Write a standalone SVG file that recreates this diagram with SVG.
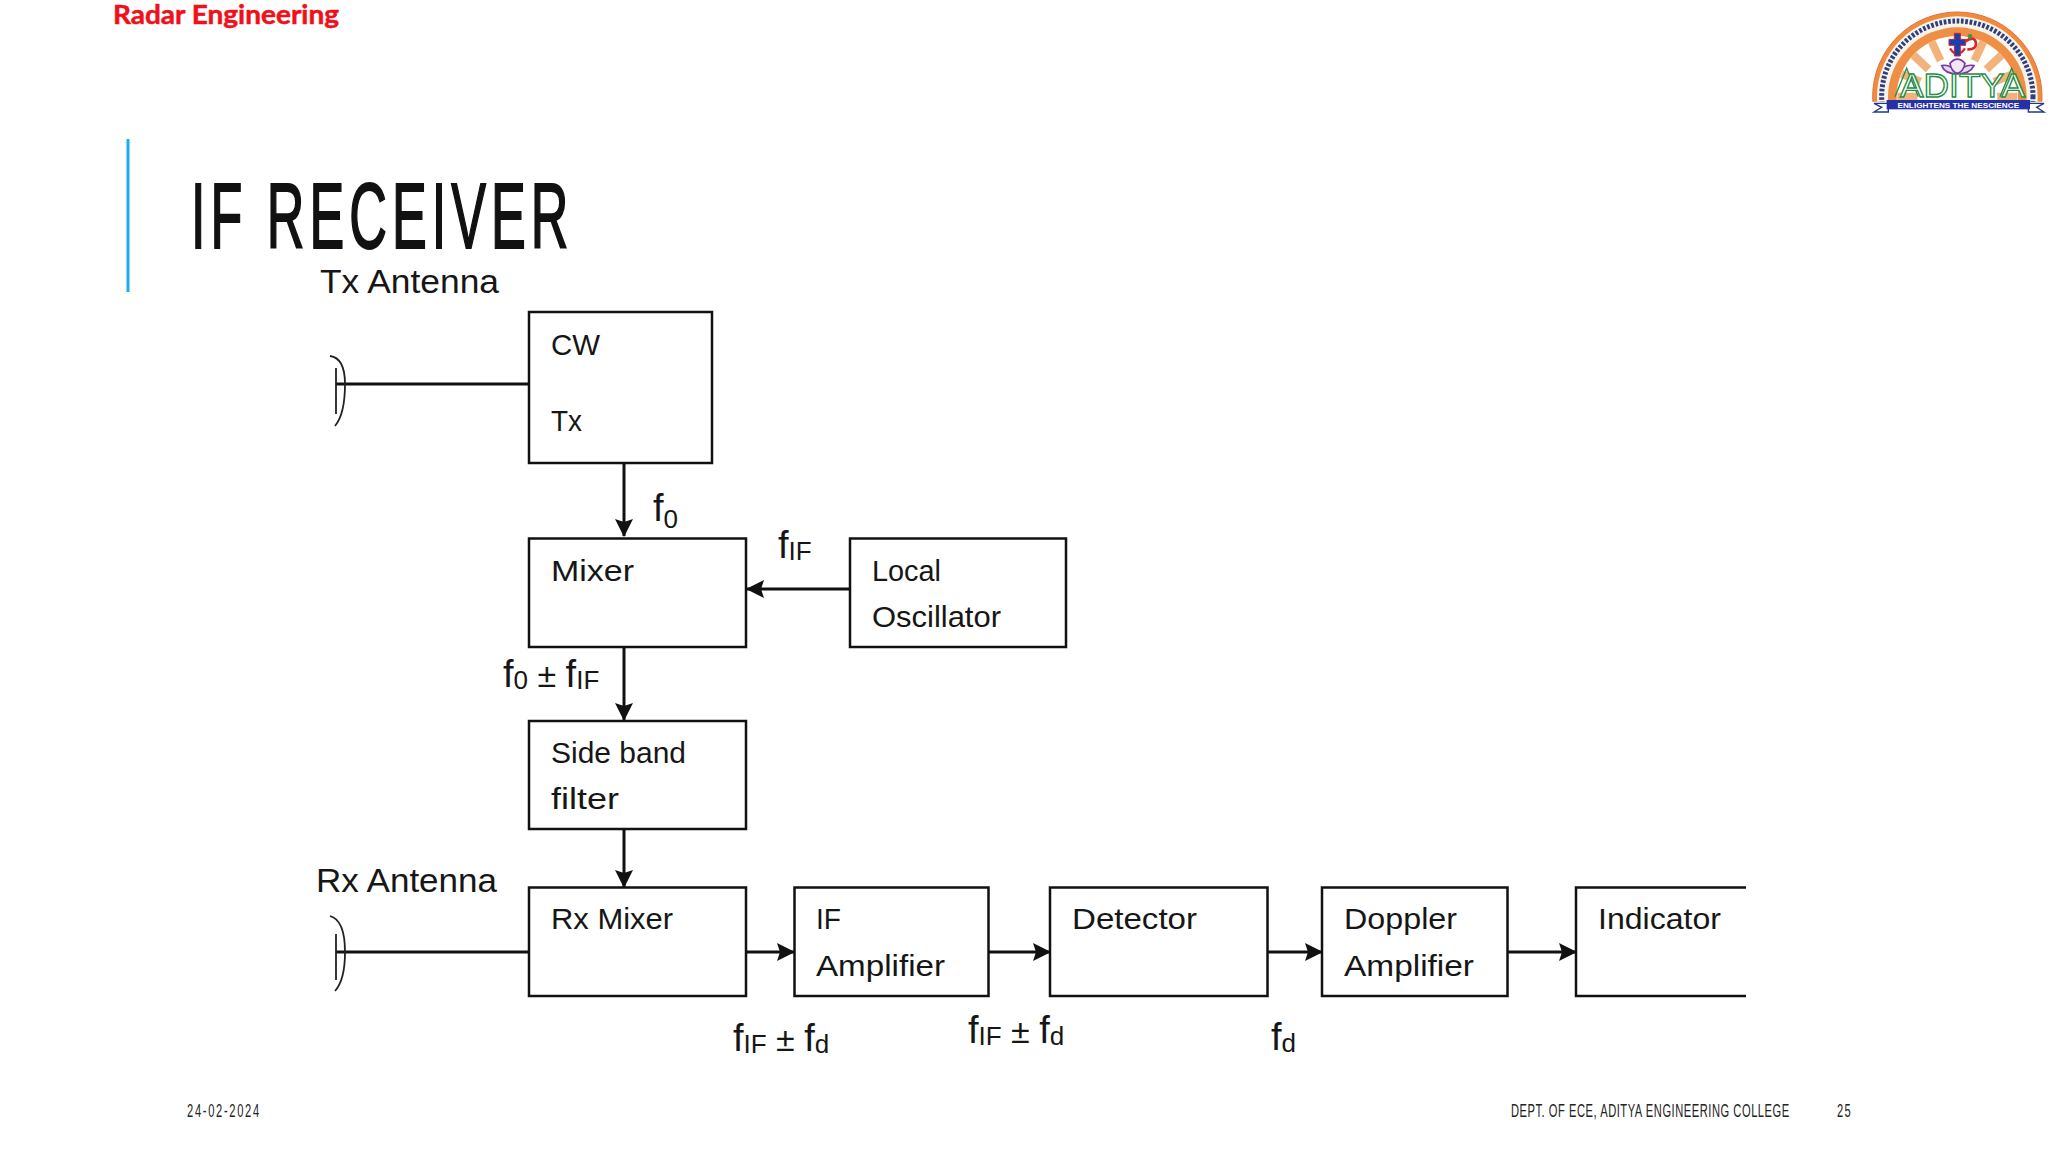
<svg xmlns="http://www.w3.org/2000/svg" width="2048" height="1152" viewBox="0 0 2048 1152">
<defs>
<style>
.box{fill:#fff;stroke:#111;stroke-width:2.5}
.ln{fill:none;stroke:#111;stroke-width:3}
.ant{fill:none;stroke:#222;stroke-width:1.8}
.t{font-family:"Liberation Sans",Arial,sans-serif;font-size:30px;fill:#161616}
.big{font-size:34px}
.sig{font-family:"Liberation Sans",Arial,sans-serif;font-size:38px;fill:#161616}
.sub{font-size:26px}
.pm{font-size:34px}
.foot{font-family:"Liberation Sans",Arial,sans-serif;font-size:18px;fill:#222;letter-spacing:.85px}
</style>
<marker id="ah" markerUnits="userSpaceOnUse" markerWidth="20" markerHeight="22" refX="17" refY="11" orient="auto">
<path d="M0 2 L18 11 L0 20 L3 11 Z" fill="#111"/>
</marker>
<clipPath id="semi"><rect x="40" y="0" width="580" height="305"/></clipPath>
</defs>
<rect width="2048" height="1152" fill="#fff"/>

<g id="header">
<text x="113" y="24" font-family="Lato,'Liberation Sans',sans-serif" font-weight="700" font-size="27" fill="#f0101a" stroke="#f0101a" stroke-width=".5" textLength="226" lengthAdjust="spacingAndGlyphs">Radar Engineering</text>
<rect x="126.500" y="139" width="3" height="153" fill="#1cade4"/>
<text transform="translate(191 248) scale(.56 1)" x="0" y="0" font-family="'Liberation Sans',Arial,sans-serif" font-size="93" fill="#111" stroke="#111" stroke-width="2" letter-spacing="9">IF RECEIVER</text>
</g>

<g id="logo" transform="translate(1850 0) scale(.33333)">
<g clip-path="url(#semi)">
<circle cx="322" cy="290" r="254" fill="#f08a3c" stroke="#e2703a" stroke-width="3"/>
<circle cx="322" cy="290" r="241" fill="#fbf3e8"/>
<circle cx="322" cy="290" r="227" fill="none" stroke="#2a3f86" stroke-width="15" stroke-dasharray="8 5"/>
<circle cx="322" cy="290" r="208" fill="#ef8f45"/>
<circle cx="322" cy="290" r="182" fill="#fff"/>
<g stroke="#f3b27c" stroke-width="24">
<path d="M322 290 L142 290"/><path d="M322 290 L155 222"/><path d="M322 290 L190 165"/><path d="M322 290 L245 125"/><path d="M322 290 L400 125"/><path d="M322 290 L455 165"/><path d="M322 290 L490 222"/><path d="M322 290 L502 290"/>
</g>
<circle cx="322" cy="290" r="120" fill="#fff"/>
</g>
<g fill="none" stroke="#7a3aa0" stroke-width="5">
<path d="M275 197 Q300 190 322 220 Q345 190 372 197 Q360 222 322 222 Q285 222 275 197 Z" fill="#e9d8f0"/>
<path d="M300 190 Q322 165 345 190 Q340 215 322 220 Q304 215 300 190 Z" fill="#f3e6f6"/>
</g>
<path d="M300 145 Q322 178 345 145" fill="none" stroke="#d8262c" stroke-width="7"/>
<path d="M313 100 H331 V118 H347 V136 H331 V168 H313 V136 H297 V118 H313 Z" fill="#1d3fae" stroke="#c8242c" stroke-width="3"/>
<path d="M345 125 Q375 105 378 130 Q378 150 352 148" fill="none" stroke="#d8262c" stroke-width="8"/>
<circle cx="360" cy="109" r="7" fill="#3b9a4a"/>
<path d="M135 290 L170 205 L205 290 M520 290 L485 205 L450 290" fill="none" stroke="#1f8f45" stroke-width="4"/>
<text x="150" y="290" font-family="'Liberation Sans',Arial,sans-serif" font-size="100" fill="#fff" stroke="#1f8f45" stroke-width="4" textLength="375" lengthAdjust="spacingAndGlyphs">ADITYA</text>
<path d="M115 310 H72 L95 322 L72 336 H115 Z" fill="#fff" stroke="#1f3a86" stroke-width="4"/>
<path d="M535 310 H582 L560 322 L582 336 H535 Z" fill="#fff" stroke="#1f3a86" stroke-width="4"/>
<rect x="110" y="300" width="430" height="28" fill="#2431a8"/>
<text x="325" y="323" text-anchor="middle" font-family="'Liberation Sans',Arial,sans-serif" font-weight="700" font-size="23" fill="#fff" textLength="365" lengthAdjust="spacingAndGlyphs">ENLIGHTENS THE NESCIENCE</text>
</g>

<g id="connectors">
<path class="ln" d="M336 384 H529"/>
<path class="ln" d="M624 463 V536" marker-end="url(#ah)"/>
<path class="ln" d="M849 589 H747" marker-end="url(#ah)"/>
<path class="ln" d="M624 647 V720" marker-end="url(#ah)"/>
<path class="ln" d="M624 829 V887" marker-end="url(#ah)"/>
<path class="ln" d="M336 952 H529"/>
<path class="ln" d="M746 952 H794" marker-end="url(#ah)"/>
<path class="ln" d="M988 952 H1050" marker-end="url(#ah)"/>
<path class="ln" d="M1267 952 H1322" marker-end="url(#ah)"/>
<path class="ln" d="M1507 952 H1576" marker-end="url(#ah)"/>
</g>

<g id="tx-antenna">
<path class="ant" d="M330 356 Q345 358 345 384 Q345 414 335 426"/>
<path class="ant" d="M336 368 V414"/>
<text class="t big" x="320" y="293" textLength="179" lengthAdjust="spacingAndGlyphs">Tx Antenna</text>
</g>
<g id="rx-antenna">
<path class="ant" d="M330 916 Q345 920 345 952 Q345 980 335 991"/>
<path class="ant" d="M336 934 V980"/>
<text class="t big" x="316" y="892" textLength="181" lengthAdjust="spacingAndGlyphs">Rx Antenna</text>
</g>
<g id="cw-tx">
<rect class="box" x="529" y="312" width="183" height="151"/>
<text class="t" x="551" y="355" textLength="49" lengthAdjust="spacingAndGlyphs">CW</text>
<text class="t" x="551" y="431" textLength="31" lengthAdjust="spacingAndGlyphs">Tx</text>
</g>
<g id="mixer">
<rect class="box" x="529" y="538.500" width="217" height="108.500"/>
<text class="t" x="551" y="581" textLength="83" lengthAdjust="spacingAndGlyphs">Mixer</text>
</g>
<g id="local-oscillator">
<rect class="box" x="850" y="538.500" width="216" height="108.500"/>
<text class="t" x="872" y="581" textLength="69" lengthAdjust="spacingAndGlyphs">Local</text>
<text class="t" x="872" y="627" textLength="129" lengthAdjust="spacingAndGlyphs">Oscillator</text>
</g>
<g id="sideband-filter">
<rect class="box" x="529" y="721" width="217" height="108"/>
<text class="t" x="551" y="763" textLength="135" lengthAdjust="spacingAndGlyphs">Side band</text>
<text class="t" x="551" y="809" textLength="68" lengthAdjust="spacingAndGlyphs">filter</text>
</g>
<g id="rx-mixer">
<rect class="box" x="529" y="887.500" width="217" height="108.500"/>
<text class="t" x="551" y="929" textLength="122" lengthAdjust="spacingAndGlyphs">Rx Mixer</text>
</g>
<g id="if-amplifier">
<rect class="box" x="794.500" y="887.500" width="194" height="108.500"/>
<text class="t" x="816" y="929" textLength="25" lengthAdjust="spacingAndGlyphs">IF</text>
<text class="t" x="816" y="976" textLength="129" lengthAdjust="spacingAndGlyphs">Amplifier</text>
</g>
<g id="detector">
<rect class="box" x="1050" y="887.500" width="217.500" height="108.500"/>
<text class="t" x="1072" y="929" textLength="125" lengthAdjust="spacingAndGlyphs">Detector</text>
</g>
<g id="doppler-amplifier">
<rect class="box" x="1322" y="887.500" width="185.500" height="108.500"/>
<text class="t" x="1344" y="929" textLength="113" lengthAdjust="spacingAndGlyphs">Doppler</text>
<text class="t" x="1344" y="976" textLength="130" lengthAdjust="spacingAndGlyphs">Amplifier</text>
</g>
<g id="indicator">
<path class="box" d="M1746 887.500 H1576 V996 H1746" />
<text class="t" x="1598" y="929" textLength="123" lengthAdjust="spacingAndGlyphs">Indicator</text>
</g>

<g id="signal-labels">
<text class="sig" x="653" y="521">f<tspan class="sub" dy="7">0</tspan></text>
<text class="sig" x="778" y="558">f<tspan class="sub" dy="2">IF</tspan></text>
<text class="sig" x="503" y="687">f<tspan class="sub" dy="2">0</tspan><tspan class="pm" dy="-2"> ± </tspan>f<tspan class="sub" dy="2">IF</tspan></text>
<text class="sig" x="733" y="1051">f<tspan class="sub" dy="2">IF</tspan><tspan class="pm" dy="-2"> ± </tspan>f<tspan class="sub" dy="2">d</tspan></text>
<text class="sig" x="968" y="1043">f<tspan class="sub" dy="2">IF</tspan><tspan class="pm" dy="-2"> ± </tspan>f<tspan class="sub" dy="2">d</tspan></text>
<text class="sig" x="1271" y="1050">f<tspan class="sub" dy="2">d</tspan></text>
</g>

<g id="footer">
<text class="foot" transform="translate(187 1117) scale(.62 1)" style="letter-spacing:2.7px">24-02-2024</text>
<text class="foot" transform="translate(1511 1117) scale(.62 1)">DEPT. OF ECE, ADITYA ENGINEERING COLLEGE</text>
<text class="foot" transform="translate(1837 1117) scale(.62 1)" style="letter-spacing:2px">25</text>
</g>
</svg>
